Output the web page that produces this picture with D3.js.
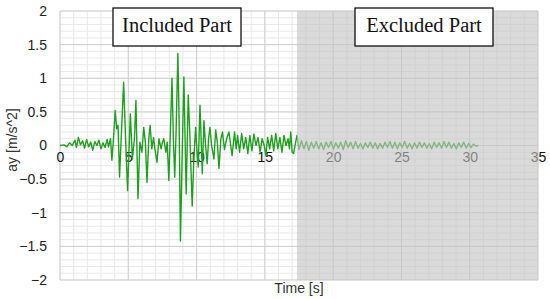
<!DOCTYPE html>
<html>
<head>
<meta charset="utf-8">
<script src="https://cdn.jsdelivr.net/npm/d3@7"></script>
<style>
  body { margin: 0; background: #fff; }
  svg { display: block; }
  .tick text { font-family: "Liberation Sans", Arial, sans-serif; }
</style>
</head>
<body>
<svg></svg>
<script>
var time = [
  0,0.3,0.5,0.7,0.9,1.1,1.2,1.35,1.5,1.65,
  1.8,1.95,2.1,2.25,2.4,2.55,2.7,2.85,3.0,3.15,
  3.3,3.45,3.55,3.7,3.8,3.9,4.04,4.15,4.25,4.36,
  4.5,4.66,4.8,4.95,5.05,5.15,5.3,5.45,5.56,5.71,
  5.85,6.0,6.13,6.25,6.37,6.5,6.6,6.72,6.85,6.95,
  7.1,7.25,7.4,7.5,7.6,7.75,7.85,7.97,8.08,8.2,
  8.3,8.4,8.5,8.63,8.72,8.82,8.95,9.07,9.15,9.24,
  9.39,9.5,9.68,9.8,9.93,10.02,10.12,10.25,10.42,10.54,
  10.66,10.78,10.88,10.98,11.1,11.27,11.4,11.52,11.64,11.78,
  11.9,12.04,12.2,12.37,12.5,12.6,12.78,12.9,13.0,13.15,
  13.3,13.45,13.6,13.75,13.9,14.05,14.2,14.35,14.5,14.65,
  14.8,14.95,15.07,15.2,15.35,15.5,15.65,15.8,15.95,16.1,
  16.25,16.4,16.55,16.7,16.8,16.9,17.0,17.1,17.35,
  17.5,17.68,17.86,18.04,18.22,18.4,18.58,18.76,18.94,19.12,
  19.3,19.48,19.66,19.84,20.02,20.2,20.38,20.56,20.74,20.92,
  21.1,21.28,21.46,21.64,21.82,22.0,22.18,22.36,22.54,22.72,
  22.9,23.08,23.26,23.44,23.62,23.8,23.98,24.16,24.34,24.52,
  24.7,24.88,25.06,25.24,25.42,25.6,25.78,25.96,26.14,26.32,
  26.5,26.68,26.86,27.04,27.22,27.4,27.58,27.76,27.94,28.12,
  28.3,28.48,28.66,28.84,29.02,29.2,29.38,29.56,29.74,29.92,
  30.1,30.28,30.46,30.64
];

var accel = [
  0,0.01,-0.02,0.04,0.0,0.08,-0.03,0.12,0.01,0.07,
  -0.04,0.09,-0.02,0.05,-0.07,0.06,0.0,0.08,-0.05,0.04,
  -0.03,0.09,-0.02,0.1,-0.22,0.05,0.52,0.25,0.3,-0.47,
  0.2,0.94,0.1,-0.67,-0.1,0.47,-0.2,0.1,0.67,-0.79,
  0.05,-0.1,0.27,0.05,-0.55,0.1,0.3,-0.05,0.12,-0.05,
  -0.25,0.1,-0.05,0.05,0.1,-0.1,0.05,-0.52,0.2,1.0,
  0.1,-0.47,0.2,1.37,0.4,-1.42,-0.1,1.02,0.2,-0.72,
  0.75,0.2,-0.9,-0.2,0.27,-0.05,-0.32,0.6,-0.42,0.37,
  0.0,-0.27,0.1,0.27,0.0,-0.2,0.23,0.05,-0.34,0.1,
  0.2,-0.06,0.1,0.2,0.0,-0.15,0.2,-0.05,0.15,-0.1,
  0.18,-0.05,0.12,-0.12,0.15,-0.08,0.17,0.0,0.12,-0.1,
  0.1,0.0,-0.15,0.12,-0.05,0.15,-0.08,0.18,-0.05,0.12,
  -0.1,0.15,0.0,0.1,-0.05,0.2,-0.1,-0.12,0.15,
  -0.06,0.07,-0.05,0.06,-0.07,0.05,-0.04,0.06,-0.05,0.04,
  -0.06,0.05,-0.03,0.06,-0.05,0.04,-0.04,0.05,-0.06,0.07,
  -0.03,0.05,-0.05,0.06,-0.04,0.03,-0.05,0.04,-0.03,0.05,
  -0.04,0.04,-0.05,0.03,-0.04,0.05,-0.03,0.06,-0.04,0.05,
  -0.05,0.04,-0.03,0.06,-0.04,0.03,-0.05,0.04,-0.04,0.05,
  -0.03,0.04,-0.04,0.03,-0.05,0.05,-0.03,0.04,-0.04,0.06,
  -0.03,0.05,-0.04,0.03,-0.05,0.04,-0.03,0.05,-0.04,0.03,
  -0.03,0.02,-0.01,0.0
];

var xTicks = [0, 5, 10, 15, 20, 25, 30, 35];
var yTicks = [-2, -1.5, -1, -0.5, 0, 0.5, 1, 1.5, 2];
var excludeFrom = 17.35;
var labels = ['Included Part', 'Excluded Part'];

var w = 550, h = 299;
var svg = d3.select('svg').attr('width', w).attr('height', h);

var x = d3.scaleLinear().domain([0, 35]).range([60, 538]);
var y = d3.scaleLinear().domain([-2, 2]).range([280, 11]);

// minor grid
var grid = svg.append('g');
grid.selectAll('line.vmin')
  .data(x.ticks(35))
  .enter().append('line')
    .attr('x1', function(d) { return x(d); }).attr('x2', function(d) { return x(d); })
    .attr('y1', y(2)).attr('y2', y(-2))
    .attr('stroke', '#e8e8e8').attr('stroke-width', 1);
grid.selectAll('line.hmin')
  .data(y.ticks(40))
  .enter().append('line')
    .attr('x1', x(0)).attr('x2', x(35))
    .attr('y1', function(d) { return y(d); }).attr('y2', function(d) { return y(d); })
    .attr('stroke', '#e8e8e8').attr('stroke-width', 1);

// major grid
grid.selectAll('line.vmaj')
  .data(xTicks)
  .enter().append('line')
    .attr('x1', function(d) { return x(d); }).attr('x2', function(d) { return x(d); })
    .attr('y1', y(2)).attr('y2', y(-2))
    .attr('stroke', '#cfcfcf').attr('stroke-width', 1);
grid.selectAll('line.hmaj')
  .data(yTicks)
  .enter().append('line')
    .attr('x1', x(0)).attr('x2', x(35))
    .attr('y1', function(d) { return y(d); }).attr('y2', function(d) { return y(d); })
    .attr('stroke', '#cfcfcf').attr('stroke-width', 1);

// axes labels
var yAxis = svg.append('g')
  .attr('transform', 'translate(' + (x(0) - 13) + ',0)')
  .call(d3.axisLeft(y).tickValues(yTicks).tickFormat(d3.format('~g')).tickSize(0).tickPadding(0));
yAxis.select('.domain').remove();
yAxis.selectAll('text').attr('font-size', 14).attr('fill', '#222');

var xAxis = svg.append('g')
  .attr('transform', 'translate(0,' + y(0) + ')')
  .call(d3.axisBottom(x).tickValues(xTicks).tickSize(0).tickPadding(7));
xAxis.select('.domain').remove();
xAxis.selectAll('text').attr('font-size', 14).attr('fill', '#111');

// signal
var pts = d3.zip(time, accel);
svg.append('path')
  .datum(pts)
  .attr('fill', 'none')
  .attr('stroke', '#1f9f1f')
  .attr('stroke-width', 1.4)
  .attr('stroke-linejoin', 'round')
  .attr('d', d3.line()
    .x(function(d) { return x(d[0]); })
    .y(function(d) { return y(d[1]); }));

// excluded zone overlay
svg.append('rect')
  .attr('x', x(excludeFrom)).attr('y', y(2))
  .attr('width', x(35) - x(excludeFrom))
  .attr('height', y(-2) - y(2))
  .attr('fill', '#c4c4c4')
  .attr('fill-opacity', 0.62);

// titles
svg.append('text')
  .attr('x', (x(0) + x(35)) / 2).attr('y', 293)
  .attr('text-anchor', 'middle')
  .attr('font-family', '"Liberation Sans", Arial, sans-serif')
  .attr('font-size', 14).attr('fill', '#333')
  .text('Time [s]');

svg.append('text')
  .attr('transform', 'translate(17,140) rotate(-90)')
  .attr('text-anchor', 'middle')
  .attr('font-family', '"Liberation Sans", Arial, sans-serif')
  .attr('font-size', 14).attr('fill', '#333')
  .text('ay [m/s^2]');

// label boxes
var boxes = [
  { text: labels[0], x0: 113, x1: 241 },
  { text: labels[1], x0: 355, x1: 493 }
];
var box = svg.selectAll('g.box')
  .data(boxes)
  .enter().append('g').attr('class', 'box');
box.append('rect')
  .attr('x', function(d) { return d.x0; })
  .attr('y', 8)
  .attr('width', function(d) { return d.x1 - d.x0; })
  .attr('height', 38)
  .attr('fill', '#fff')
  .attr('stroke', '#111')
  .attr('stroke-width', 1.3);
box.append('text')
  .attr('x', function(d) { return (d.x0 + d.x1) / 2; })
  .attr('y', 32)
  .attr('text-anchor', 'middle')
  .attr('font-family', '"Liberation Serif", "Times New Roman", serif')
  .attr('font-size', 20.5)
  .attr('fill', '#111')
  .text(function(d) { return d.text; });
</script>
</body>
</html>
